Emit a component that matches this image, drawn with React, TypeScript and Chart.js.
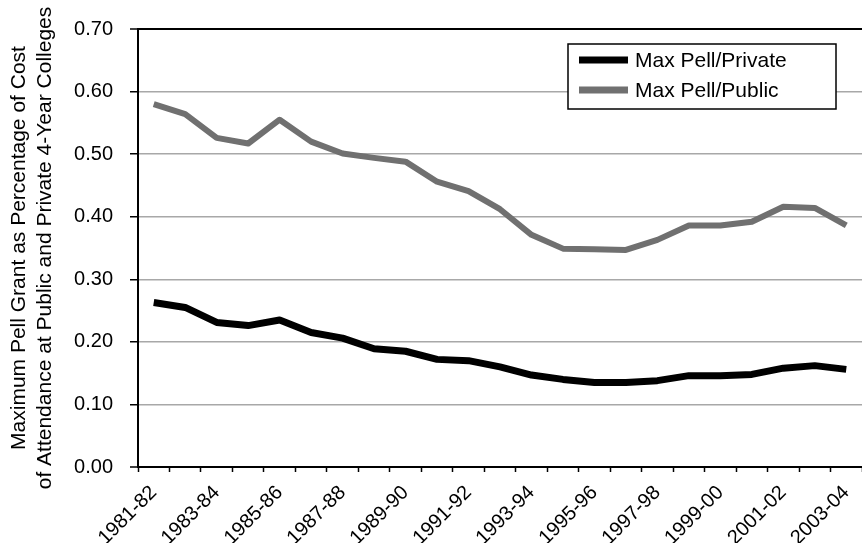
import React, { useEffect, useRef } from "react";
import { Chart, registerables } from "chart.js";

Chart.register(...registerables);

const categories = [
  "1981-82", "1982-83", "1983-84", "1984-85", "1985-86", "1986-87", "1987-88", "1988-89",
  "1989-90", "1990-91", "1991-92", "1992-93", "1993-94", "1994-95", "1995-96", "1996-97",
  "1997-98", "1998-99", "1999-00", "2000-01", "2001-02", "2002-03", "2003-04",
];

const privateValues = [
  0.263, 0.255, 0.231, 0.226, 0.235, 0.215, 0.206, 0.189, 0.185, 0.172, 0.170, 0.160,
  0.147, 0.140, 0.135, 0.135, 0.138, 0.146, 0.146, 0.148, 0.158, 0.162, 0.156,
];

const publicValues = [
  0.580, 0.564, 0.526, 0.517, 0.555, 0.520, 0.501, 0.494, 0.488, 0.456, 0.441, 0.412,
  0.371, 0.349, 0.348, 0.347, 0.363, 0.386, 0.386, 0.392, 0.416, 0.414, 0.386,
];

const seriesLabels = ["Max Pell/Private", "Max Pell/Public"];
const seriesColors = ["#000000", "#707070"];
const yTitle = [
  "Maximum Pell Grant as Percentage of Cost",
  "of Attendance at Public and Private 4-Year Colleges",
];

const FONT = "'Liberation Sans', Arial, sans-serif";

const boxLegend = {
  id: "boxLegend",
  afterDraw(chart: any) {
    const ctx = chart.ctx;
    const x0 = 568, y0 = 44, w = 268, h = 65;
    ctx.save();
    ctx.fillStyle = "#ffffff";
    ctx.fillRect(x0, y0, w, h);
    ctx.strokeStyle = "#000000";
    ctx.lineWidth = 1.5;
    ctx.strokeRect(x0, y0, w, h);
    ctx.font = `21px ${FONT}`;
    ctx.textBaseline = "middle";
    ctx.textAlign = "left";
    chart.data.datasets.forEach((ds: any, i: number) => {
      const cy = y0 + 16 + i * 30;
      ctx.strokeStyle = ds.borderColor;
      ctx.lineWidth = 7;
      ctx.lineCap = "butt";
      ctx.beginPath();
      ctx.moveTo(x0 + 11, cy);
      ctx.lineTo(x0 + 60, cy);
      ctx.stroke();
      ctx.fillStyle = "#000000";
      ctx.fillText(ds.label, x0 + 67, cy + 1);
    });
    ctx.restore();
  },
};

export default function App() {
  const ref = useRef<HTMLCanvasElement | null>(null);
  useEffect(() => {
    if (!ref.current) return;
    const chart = new Chart(ref.current, {
      type: "line",
      data: {
        labels: categories,
        datasets: [
          {
            label: seriesLabels[0],
            data: privateValues,
            borderColor: seriesColors[0],
            backgroundColor: seriesColors[0],
            borderWidth: 7,
            pointRadius: 0,
            tension: 0,
            borderJoinStyle: "round",
          },
          {
            label: seriesLabels[1],
            data: publicValues,
            borderColor: seriesColors[1],
            backgroundColor: seriesColors[1],
            borderWidth: 6,
            pointRadius: 0,
            tension: 0,
            borderJoinStyle: "round",
          },
        ],
      },
      options: {
        animation: false,
        responsive: true,
        maintainAspectRatio: false,
        layout: { padding: { top: 29, left: 0, right: 0, bottom: 0 } },
        plugins: { legend: { display: false }, tooltip: { enabled: false } },
        scales: {
          x: {
            offset: true,
            grid: {
              offset: true,
              drawOnChartArea: false,
              drawTicks: true,
              tickLength: 5,
              tickColor: "#000000",
              tickWidth: 1.5,
            },
            border: { display: true, color: "#000000", width: 2 },
            ticks: {
              autoSkip: false,
              minRotation: 45,
              maxRotation: 45,
              color: "#000000",
              font: { family: FONT, size: 20 },
              padding: 9,
              callback: (_v: any, i: number) => (i % 2 === 0 ? categories[i] : ""),
            },
            afterFit: (s: any) => {
              s.height = 76;
              s.paddingLeft = 0;
              s.paddingRight = 0;
            },
          },
          y: {
            min: 0,
            max: 0.7,
            grid: {
              color: (c: any) =>
                c.tick && (Math.abs(c.tick.value - 0.7) < 1e-6 || Math.abs(c.tick.value) < 1e-6)
                  ? "#000000"
                  : "#a8a8a8",
              lineWidth: (c: any) =>
                c.tick && (Math.abs(c.tick.value - 0.7) < 1e-6 || Math.abs(c.tick.value) < 1e-6) ? 2 : 1.5,
              tickColor: "#000000",
              tickLength: 8,
              tickWidth: 1.5,
            },
            border: { display: true, color: "#000000", width: 2 },
            ticks: {
              stepSize: 0.1,
              color: "#000000",
              padding: 17,
              font: { family: FONT, size: 20 },
              callback: (v: any) => Number(v).toFixed(2),
            },
            title: {
              display: true,
              text: yTitle,
              color: "#000000",
              font: { family: FONT, size: 21, lineHeight: 1.24 },
              padding: { top: 6, bottom: 0 },
            },
            afterFit: (s: any) => {
              s.width = 138;
            },
          },
        },
      },
      plugins: [boxLegend],
    });
    return () => chart.destroy();
  }, []);
  return (
    <div style={{ position: "absolute", left: 0, top: 0, width: 862, height: 543, background: "#fff" }}>
      <canvas ref={ref} />
    </div>
  );
}
